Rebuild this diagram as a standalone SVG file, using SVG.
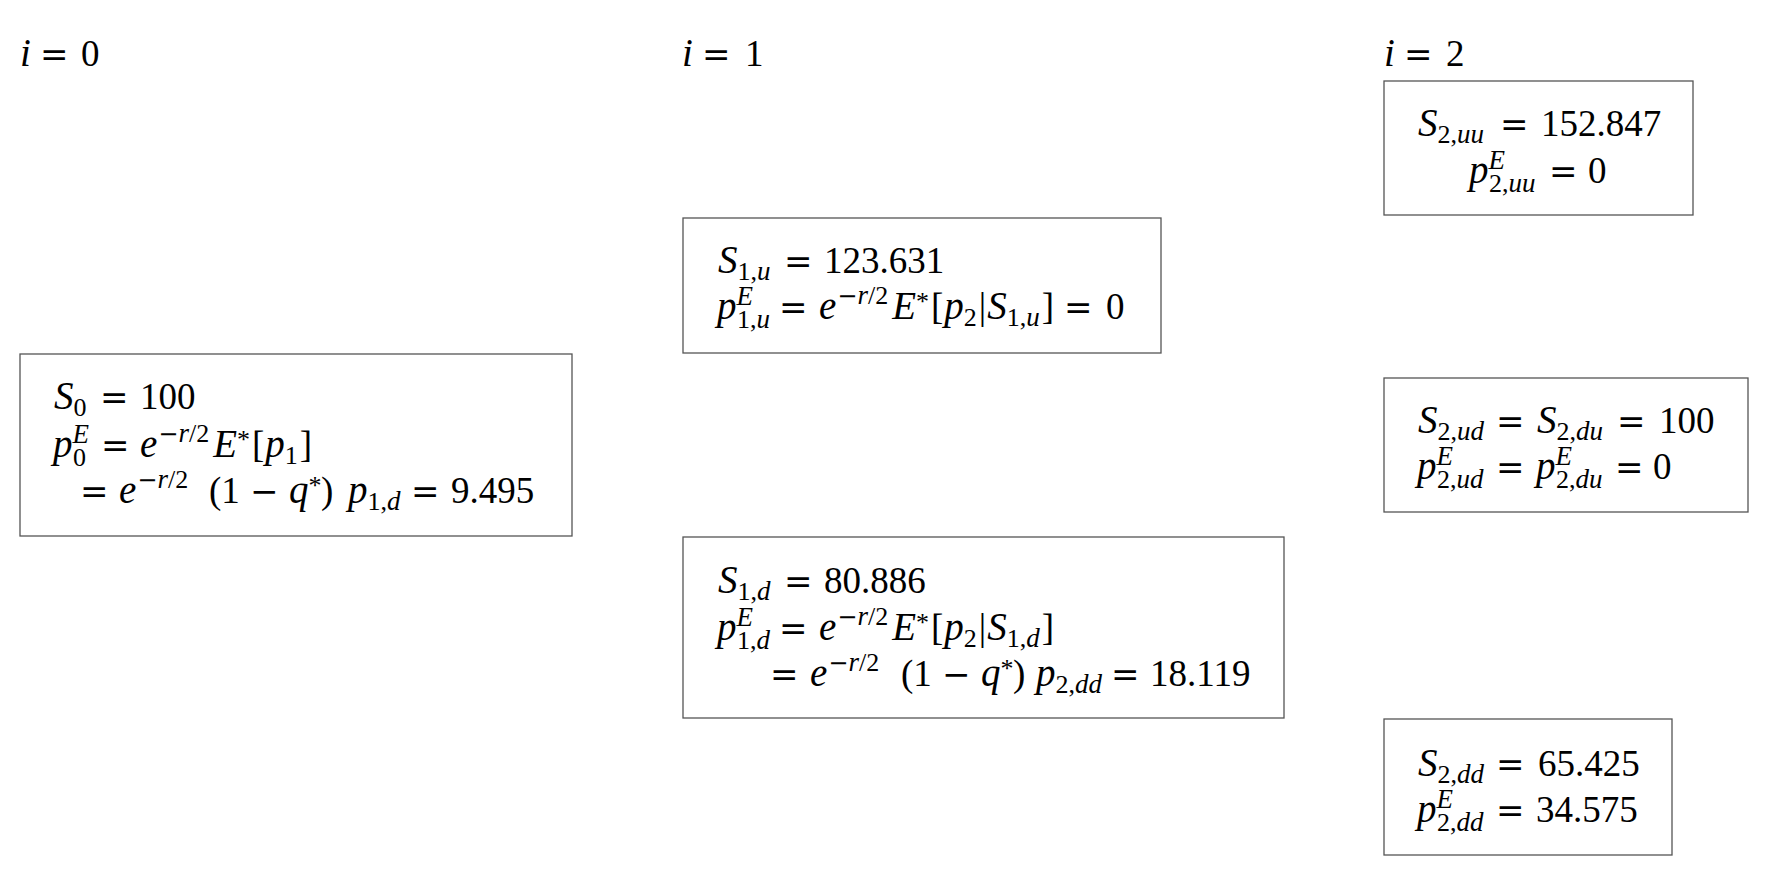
<svg xmlns="http://www.w3.org/2000/svg" width="1768" height="892" viewBox="0 0 1768 892">
<style>
text{font-family:"Liberation Serif","Times New Roman",serif;font-size:37px;fill:#000}
.i{font-style:italic;font-size:39px}
.s{font-size:26px}
.s.i{font-size:27px}
.o{font-family:"DejaVu Serif",serif;font-size:34px}
.m{font-family:"DejaVu Serif",serif;font-size:24px}
.box{fill:#fff;stroke:#555;stroke-width:1.3}
</style>
<rect width="1768" height="892" fill="#fff"/>
<g id="labels">
<text y="66"><tspan class="i" x="20">i</tspan><tspan class="o" x="40">=</tspan><tspan x="81">0</tspan></text>
<text y="66"><tspan class="i" x="682">i</tspan><tspan class="o" x="702">=</tspan><tspan x="745">1</tspan></text>
<text y="66"><tspan class="i" x="1384">i</tspan><tspan class="o" x="1404">=</tspan><tspan x="1446">2</tspan></text>
</g>
<g id="connectors"></g>
<g id="node-0">
<rect class="box" x="20" y="354" width="552" height="182"/>
<text y="409"><tspan class="i" x="54">S</tspan><tspan class="s" dy="7">0</tspan><tspan class="o" x="100" dy="-7">=</tspan><tspan x="140">100</tspan></text>
<text y="457"><tspan class="i" x="53">p</tspan><tspan class="s i" dy="-14">E</tspan><tspan class="s" x="73" dy="23">0</tspan><tspan class="o" x="101" dy="-9">=</tspan><tspan class="i" x="140">e</tspan><tspan class="m" dx="1" dy="-15">−</tspan><tspan class="s i">r</tspan><tspan class="s">/2</tspan><tspan class="i" dx="4" dy="15">E</tspan><tspan class="s" dy="-9">*</tspan><tspan dx="2" dy="9">[</tspan><tspan class="i" dx="1">p</tspan><tspan class="s" dy="7">1</tspan><tspan dx="2" dy="-7">]</tspan></text>
<text y="503"><tspan class="o" x="80">=</tspan><tspan class="i" x="119">e</tspan><tspan class="m" dx="1" dy="-15">−</tspan><tspan class="s i">r</tspan><tspan class="s">/2</tspan><tspan x="209" dy="15">(1</tspan><tspan class="o" x="250">−</tspan><tspan class="i" x="289">q</tspan><tspan class="s" dy="-9">*</tspan><tspan x="321" dy="9">)</tspan><tspan class="i" x="348">p</tspan><tspan class="s" dy="7">1,</tspan><tspan class="s i">d</tspan><tspan class="o" x="411" dy="-7">=</tspan><tspan x="451">9.495</tspan></text>
</g>
<g id="node-1u">
<rect class="box" x="683" y="218" width="478" height="135"/>
<text y="273"><tspan class="i" x="718">S</tspan><tspan class="s" dy="7">1,</tspan><tspan class="s i">u</tspan><tspan class="o" x="784" dy="-7">=</tspan><tspan x="824">123.631</tspan></text>
<text y="319"><tspan class="i" x="717">p</tspan><tspan class="s i" dy="-14">E</tspan><tspan class="s" x="737" dy="23">1,</tspan><tspan class="s i">u</tspan><tspan class="o" x="779" dy="-9">=</tspan><tspan class="i" x="819">e</tspan><tspan class="m" dx="1" dy="-15">−</tspan><tspan class="s i">r</tspan><tspan class="s">/2</tspan><tspan class="i" dx="4" dy="15">E</tspan><tspan class="s" dy="-9">*</tspan><tspan dx="2" dy="9">[</tspan><tspan class="i" dx="1">p</tspan><tspan class="s" dy="7">2</tspan><tspan dx="2" dy="-7">|</tspan><tspan class="i" dx="1">S</tspan><tspan class="s" dy="7">1,</tspan><tspan class="s i">u</tspan><tspan dx="2" dy="-7">]</tspan><tspan class="o" x="1064">=</tspan><tspan x="1106">0</tspan></text>
</g>
<g id="node-1d">
<rect class="box" x="683" y="537" width="601" height="181"/>
<text y="593"><tspan class="i" x="718">S</tspan><tspan class="s" dy="7">1,</tspan><tspan class="s i">d</tspan><tspan class="o" x="784" dy="-7">=</tspan><tspan x="824">80.886</tspan></text>
<text y="640"><tspan class="i" x="717">p</tspan><tspan class="s i" dy="-14">E</tspan><tspan class="s" x="737" dy="23">1,</tspan><tspan class="s i">d</tspan><tspan class="o" x="779" dy="-9">=</tspan><tspan class="i" x="819">e</tspan><tspan class="m" dx="1" dy="-15">−</tspan><tspan class="s i">r</tspan><tspan class="s">/2</tspan><tspan class="i" dx="4" dy="15">E</tspan><tspan class="s" dy="-9">*</tspan><tspan dx="2" dy="9">[</tspan><tspan class="i" dx="1">p</tspan><tspan class="s" dy="7">2</tspan><tspan dx="2" dy="-7">|</tspan><tspan class="i" dx="1">S</tspan><tspan class="s" dy="7">1,</tspan><tspan class="s i">d</tspan><tspan dx="2" dy="-7">]</tspan></text>
<text y="686"><tspan class="o" x="770">=</tspan><tspan class="i" x="810">e</tspan><tspan class="m" dx="1" dy="-15">−</tspan><tspan class="s i">r</tspan><tspan class="s">/2</tspan><tspan x="901" dy="15">(1</tspan><tspan class="o" x="942">−</tspan><tspan class="i" x="981">q</tspan><tspan class="s" dy="-9">*</tspan><tspan x="1013" dy="9">)</tspan><tspan class="i" x="1036">p</tspan><tspan class="s" dy="7">2,</tspan><tspan class="s i">dd</tspan><tspan class="o" x="1111" dy="-7">=</tspan><tspan x="1150">18.119</tspan></text>
</g>
<g id="node-2uu">
<rect class="box" x="1384" y="81" width="309" height="134"/>
<text y="136"><tspan class="i" x="1418">S</tspan><tspan class="s" dy="7">2,</tspan><tspan class="s i">uu</tspan><tspan class="o" x="1500" dy="-7">=</tspan><tspan x="1541">152.847</tspan></text>
<text y="183"><tspan class="i" x="1469">p</tspan><tspan class="s i" dy="-14">E</tspan><tspan class="s" x="1489" dy="23">2,</tspan><tspan class="s i">uu</tspan><tspan class="o" x="1549" dy="-9">=</tspan><tspan x="1588">0</tspan></text>
</g>
<g id="node-2ud">
<rect class="box" x="1384" y="378" width="364" height="134"/>
<text y="433"><tspan class="i" x="1418">S</tspan><tspan class="s" dy="7">2,</tspan><tspan class="s i">ud</tspan><tspan class="o" x="1496" dy="-7">=</tspan><tspan class="i" x="1537">S</tspan><tspan class="s" dy="7">2,</tspan><tspan class="s i">du</tspan><tspan class="o" x="1617" dy="-7">=</tspan><tspan x="1659">100</tspan></text>
<text y="479"><tspan class="i" x="1417">p</tspan><tspan class="s i" dy="-14">E</tspan><tspan class="s" x="1437" dy="23">2,</tspan><tspan class="s i">ud</tspan><tspan class="o" x="1496" dy="-9">=</tspan><tspan class="i" x="1536">p</tspan><tspan class="s i" dy="-14">E</tspan><tspan class="s" x="1556" dy="23">2,</tspan><tspan class="s i">du</tspan><tspan class="o" x="1615" dy="-9">=</tspan><tspan x="1653">0</tspan></text>
</g>
<g id="node-2dd">
<rect class="box" x="1384" y="719" width="288" height="136"/>
<text y="776"><tspan class="i" x="1418">S</tspan><tspan class="s" dy="7">2,</tspan><tspan class="s i">dd</tspan><tspan class="o" x="1496" dy="-7">=</tspan><tspan x="1538">65.425</tspan></text>
<text y="822"><tspan class="i" x="1417">p</tspan><tspan class="s i" dy="-14">E</tspan><tspan class="s" x="1437" dy="23">2,</tspan><tspan class="s i">dd</tspan><tspan class="o" x="1496" dy="-9">=</tspan><tspan x="1536">34.575</tspan></text>
</g>
</svg>
